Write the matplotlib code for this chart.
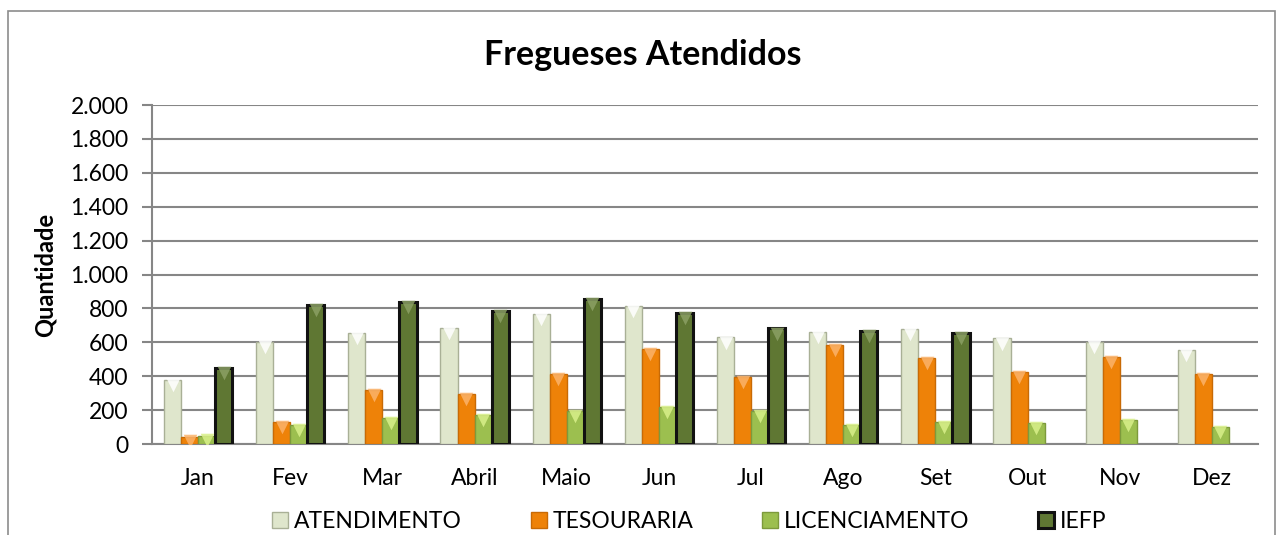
import matplotlib.pyplot as plt
import numpy as np
from matplotlib.patches import Rectangle
from matplotlib.ticker import FuncFormatter

plt.rcParams['font.family'] = ['Lato', 'DejaVu Sans']

meses = ['Jan', 'Fev', 'Mar', 'Abril', 'Maio', 'Jun', 'Jul', 'Ago', 'Set', 'Out', 'Nov', 'Dez']
atendimento = [378, 600, 653, 686, 769, 812, 629, 659, 677, 623, 604, 555]
tesouraria = [41, 128, 317, 293, 413, 562, 395, 586, 506, 423, 515, 411]
licenciamento = [49, 110, 152, 171, 195, 218, 195, 112, 128, 122, 142, 102]
iefp = [448, 818, 840, 785, 855, 773, 682, 667, 653, 0, 0, 0]

series = [
    ('ATENDIMENTO', atendimento, '#dfe6cc', '#a9b096', '#ffffff', 1.0),
    ('TESOURARIA', tesouraria, '#ee8208', '#c86a05', '#fbb36a', 1.0),
    ('LICENCIAMENTO', licenciamento, '#9cbf4f', '#7d9a3c', '#d9f08a', 1.0),
    ('IEFP', iefp, '#5f7733', '#111111', '#8ba064', 2.2),
]

fig = plt.figure(figsize=(12.85, 5.35), dpi=100)
ax = fig.add_axes([0.1183, 0.170, 0.8607, 0.6337])

# moldura do grafico
fig.patches.append(Rectangle((0.0065, -0.05), 0.986, 1.03, transform=fig.transFigure,
                             fill=False, edgecolor='#8c8c8c', linewidth=1.2))

x = np.arange(len(meses))
w = 0.185
for i, (nome, vals, cor, borda, luz, lw) in enumerate(series):
    pos = x + (i - 1.5) * w
    vals = np.array(vals)
    tem = vals > 0
    ax.bar(pos[tem], vals[tem], width=w, color=cor, edgecolor=borda, linewidth=lw,
           label=nome, zorder=3)
    # brilho triangular no topo das barras
    topo = vals[tem] - np.minimum(30, vals[tem] * 0.5)
    ax.scatter(pos[tem], topo, marker='v', s=95, color=luz,
               alpha=0.85, linewidths=0, zorder=4)

ax.set_ylim(0, 2000)
ax.set_xlim(-0.5, 11.5)
ax.set_yticks(np.arange(0, 2001, 200))
ax.yaxis.set_major_formatter(FuncFormatter(lambda v, p: f'{int(v):,}'.replace(',', '.')))
ax.set_xticks(x)
ax.set_xticklabels(meses)
ax.grid(axis='y', color='#868686', linewidth=1.5, zorder=0)
for s in ['top', 'right']:
    ax.spines[s].set_visible(False)
ax.spines['left'].set_color('#868686')
ax.spines['left'].set_linewidth(1.5)
ax.spines['bottom'].set_color('#868686')
ax.spines['bottom'].set_linewidth(1.5)
ax.tick_params(axis='y', length=7, width=1.5, color='#868686', labelsize=16.5, pad=10)
ax.tick_params(axis='x', length=0, labelsize=16.5, pad=17)

ax.set_ylabel('Quantidade', fontsize=17, fontweight='bold', labelpad=10)
fig.text(0.5, 0.897, 'Fregueses Atendidos', ha='center', va='center',
         fontsize=24.5, fontweight='bold')

leg = ax.legend(loc='upper center', bbox_to_anchor=(0.486, -0.165), ncol=4,
                frameon=False, fontsize=16.5, handlelength=0.7, handleheight=0.7,
                handletextpad=0.25, columnspacing=3.0, borderpad=0)

plt.savefig('out.png', dpi=100)
